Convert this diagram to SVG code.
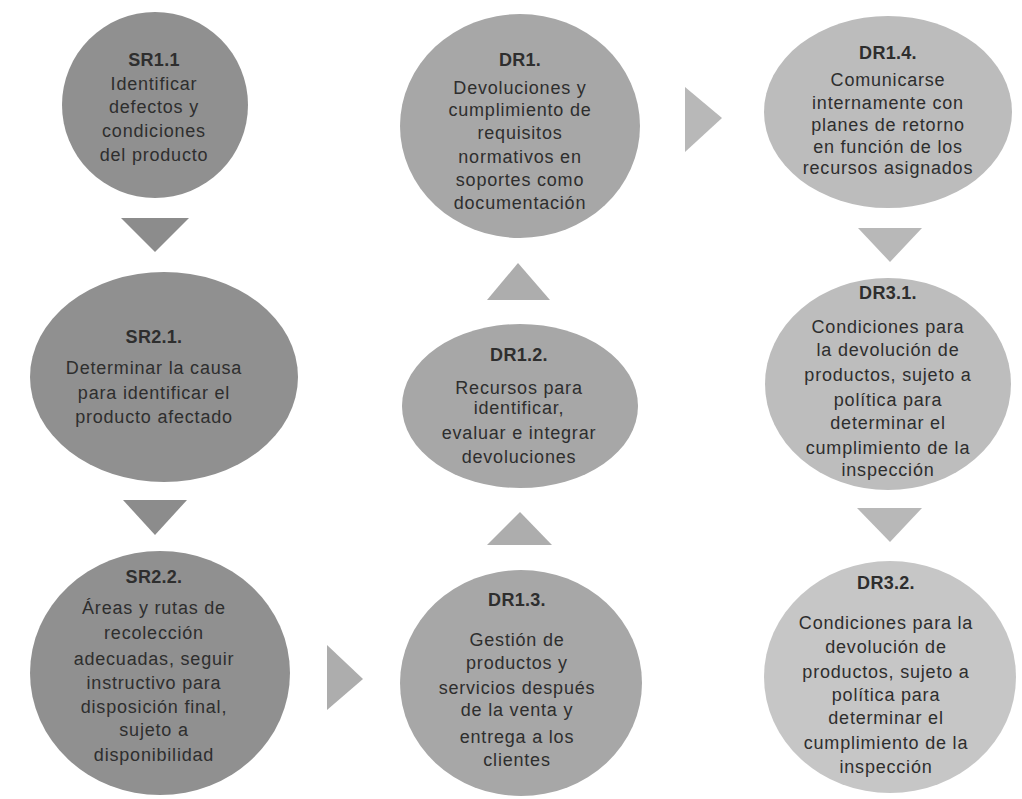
<svg xmlns="http://www.w3.org/2000/svg" width="1022" height="799" viewBox="0 0 1022 799">
  <style>
    text { font-family: "Liberation Sans", Arial, sans-serif; font-size: 18px; fill: #2e2e2e; text-anchor: middle; letter-spacing: 0.8px; }
    .t { font-weight: bold; letter-spacing: 0.3px; }
    .sr { fill: #909090; }
    .dr1 { fill: #a7a7a7; }
    .dr4 { fill: #bcbcbc; }
    .dr31 { fill: #bdbdbd; }
    .dr32 { fill: #c6c6c6; }
    .a-sr { fill: #8c8c8c; }
    .a-mid { fill: #adadad; }
    .a-right { fill: #b8b8b8; }
  </style>
  <rect width="1022" height="799" fill="#ffffff"/>

  <g id="connectors">
    <polygon class="a-sr" points="121,218 189,218 155,252"/>
    <polygon class="a-sr" points="123,500 187,500 155,535"/>
    <polygon class="a-mid" points="327,645 327,710 363,679"/>
    <polygon class="a-mid" points="487,545 552,545 520,512"/>
    <polygon class="a-mid" points="487,300 550,300 518,263"/>
    <polygon class="a-right" points="685,87 685,152 722,118"/>
    <polygon class="a-right" points="858,228 922,228 890,262"/>
    <polygon class="a-right" points="857,508 922,508 890,542"/>
  </g>

  <g id="SR1.1">
    <ellipse class="sr" cx="155" cy="105" rx="93" ry="93"/>
    <text class="t" x="154" y="66">SR1.1</text>
    <text x="154" y="90">Identificar</text>
    <text x="154" y="113">defectos y</text>
    <text x="154" y="137">condiciones</text>
    <text x="154" y="161">del producto</text>
  </g>

  <g id="SR2.1">
    <ellipse class="sr" cx="164" cy="377" rx="134" ry="105"/>
    <text class="t" x="154" y="343">SR2.1.</text>
    <text x="154" y="374">Determinar la causa</text>
    <text x="154" y="399">para identificar el</text>
    <text x="154" y="423">producto afectado</text>
  </g>

  <g id="SR2.2">
    <ellipse class="sr" cx="160" cy="673" rx="130" ry="122"/>
    <text class="t" x="154" y="583">SR2.2.</text>
    <text x="154" y="614">Áreas y rutas de</text>
    <text x="154" y="639">recolección</text>
    <text x="154" y="665">adecuadas, seguir</text>
    <text x="154" y="689">instructivo para</text>
    <text x="154" y="713">disposición final,</text>
    <text x="154" y="736">sujeto a</text>
    <text x="154" y="761">disponibilidad</text>
  </g>

  <g id="DR1">
    <ellipse class="dr1" cx="520" cy="126" rx="120" ry="112"/>
    <text class="t" x="520" y="66">DR1.</text>
    <text x="520" y="94">Devoluciones y</text>
    <text x="520" y="116">cumplimiento de</text>
    <text x="520" y="139">requisitos</text>
    <text x="520" y="163">normativos en</text>
    <text x="520" y="186">soportes como</text>
    <text x="520" y="209">documentación</text>
  </g>

  <g id="DR1.2">
    <ellipse class="dr1" cx="520" cy="406" rx="118" ry="82"/>
    <text class="t" x="519" y="361">DR1.2.</text>
    <text x="519" y="394">Recursos para</text>
    <text x="519" y="414">identificar,</text>
    <text x="519" y="439">evaluar e integrar</text>
    <text x="519" y="463">devoluciones</text>
  </g>

  <g id="DR1.3">
    <ellipse class="dr1" cx="521" cy="683" rx="121" ry="113"/>
    <text class="t" x="517" y="606">DR1.3.</text>
    <text x="517" y="646">Gestión de</text>
    <text x="517" y="669">productos y</text>
    <text x="517" y="694">servicios después</text>
    <text x="517" y="716">de la venta y</text>
    <text x="517" y="743">entrega a los</text>
    <text x="517" y="766">clientes</text>
  </g>

  <g id="DR1.4">
    <ellipse class="dr4" cx="888" cy="112" rx="124" ry="96"/>
    <text class="t" x="888" y="59">DR1.4.</text>
    <text x="888" y="86">Comunicarse</text>
    <text x="888" y="109">internamente con</text>
    <text x="888" y="131">planes de retorno</text>
    <text x="888" y="153">en función de los</text>
    <text x="888" y="174">recursos asignados</text>
  </g>

  <g id="DR3.1">
    <ellipse class="dr31" cx="888" cy="384" rx="123" ry="106"/>
    <text class="t" x="888" y="299">DR3.1.</text>
    <text x="888" y="333">Condiciones para</text>
    <text x="888" y="356">la devolución de</text>
    <text x="888" y="381">productos, sujeto a</text>
    <text x="888" y="406">política para</text>
    <text x="888" y="429">determinar el</text>
    <text x="888" y="454">cumplimiento de la</text>
    <text x="888" y="476">inspección</text>
  </g>

  <g id="DR3.2">
    <ellipse class="dr32" cx="890" cy="677" rx="126" ry="116"/>
    <text class="t" x="886" y="589">DR3.2.</text>
    <text x="886" y="629">Condiciones para la</text>
    <text x="886" y="653">devolución de</text>
    <text x="886" y="678">productos, sujeto a</text>
    <text x="886" y="701">política para</text>
    <text x="886" y="724">determinar el</text>
    <text x="886" y="749">cumplimiento de la</text>
    <text x="886" y="773">inspección</text>
  </g>
</svg>
